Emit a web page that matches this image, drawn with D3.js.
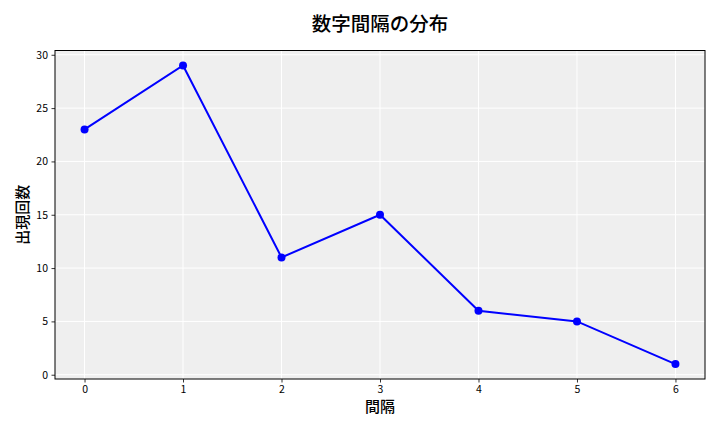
<!DOCTYPE html>
<html><head><meta charset="utf-8">
<script src="https://cdn.jsdelivr.net/npm/d3@7"></script>
<style>body{margin:0;background:#fff;}svg{display:block;}</style>
</head><body>
<svg id="c" width="720" height="432"></svg>
<script>
const categories = [0, 1, 2, 3, 4, 5, 6];
const counts = [23, 29, 11, 15, 6, 5, 1];
const xTicks = [0, 1, 2, 3, 4, 5, 6];
const yTicks = [0, 5, 10, 15, 20, 25, 30];
const titleText = "数字間隔の分布";
const xLabel = "間隔";
const yLabel = "出現回数";

const svg = d3.select("#c");
const L = 55, R = 705, T = 50.5, B = 379;
const font = "'Noto Sans CJK JP','DejaVu Sans',sans-serif";
const x = d3.scaleLinear().domain([-0.3, 6.3]).range([L, R]);
const y = d3.scaleLinear().domain([-0.4, 30.4]).range([B, T]);

svg.append("rect").attr("x", L).attr("y", T).attr("width", R - L).attr("height", B - T).attr("fill", "#efefef");

const g = svg.append("g");
g.selectAll(".gx").data(xTicks).join("line")
  .attr("x1", d => x(d)).attr("x2", d => x(d)).attr("y1", T).attr("y2", B)
  .attr("stroke", "#fff").attr("stroke-width", 1);
g.selectAll(".gy").data(yTicks).join("line")
  .attr("y1", d => y(d)).attr("y2", d => y(d)).attr("x1", L).attr("x2", R)
  .attr("stroke", "#fff").attr("stroke-width", 1);

const xAxis = svg.append("g").attr("transform", `translate(0,${B})`)
  .call(d3.axisBottom(x).tickValues(xTicks).tickSize(3.5).tickPadding(3.5).tickFormat(d3.format("d")));
const yAxis = svg.append("g").attr("transform", `translate(${L},0)`)
  .call(d3.axisLeft(y).tickValues(yTicks).tickSize(3.5).tickPadding(3.5).tickFormat(d3.format("d")));
[xAxis, yAxis].forEach(a => {
  a.select(".domain").remove();
  a.selectAll("text").attr("font-family", font).attr("font-size", 10.5).attr("fill", "#000");
  a.selectAll("line").attr("stroke", "#000").attr("stroke-width", 0.8);
});

svg.append("rect").attr("x", L).attr("y", T).attr("width", R - L).attr("height", B - T)
  .attr("fill", "none").attr("stroke", "#000").attr("stroke-width", 1);

const data = categories.map((c, i) => ({c, v: counts[i]}));
svg.append("path").datum(data)
  .attr("d", d3.line().x(d => x(d.c)).y(d => y(d.v)))
  .attr("fill", "none").attr("stroke", "#0000ff").attr("stroke-width", 2);
svg.selectAll(".pt").data(data).join("circle")
  .attr("cx", d => x(d.c)).attr("cy", d => y(d.v)).attr("r", 4).attr("fill", "#0000ff");

svg.append("text").attr("x", (L + R) / 2).attr("y", 31).attr("text-anchor", "middle")
  .attr("font-family", font).attr("font-size", 19.5).attr("font-weight", 500).text(titleText);
svg.append("text").attr("x", (L + R) / 2).attr("y", 412).attr("text-anchor", "middle")
  .attr("font-family", font).attr("font-size", 15).attr("font-weight", 500).text(xLabel);
svg.append("text").attr("transform", `translate(28,${(T + B) / 2}) rotate(-90)`).attr("text-anchor", "middle")
  .attr("font-family", font).attr("font-size", 15).attr("font-weight", 500).text(yLabel);
</script>
</body></html>
